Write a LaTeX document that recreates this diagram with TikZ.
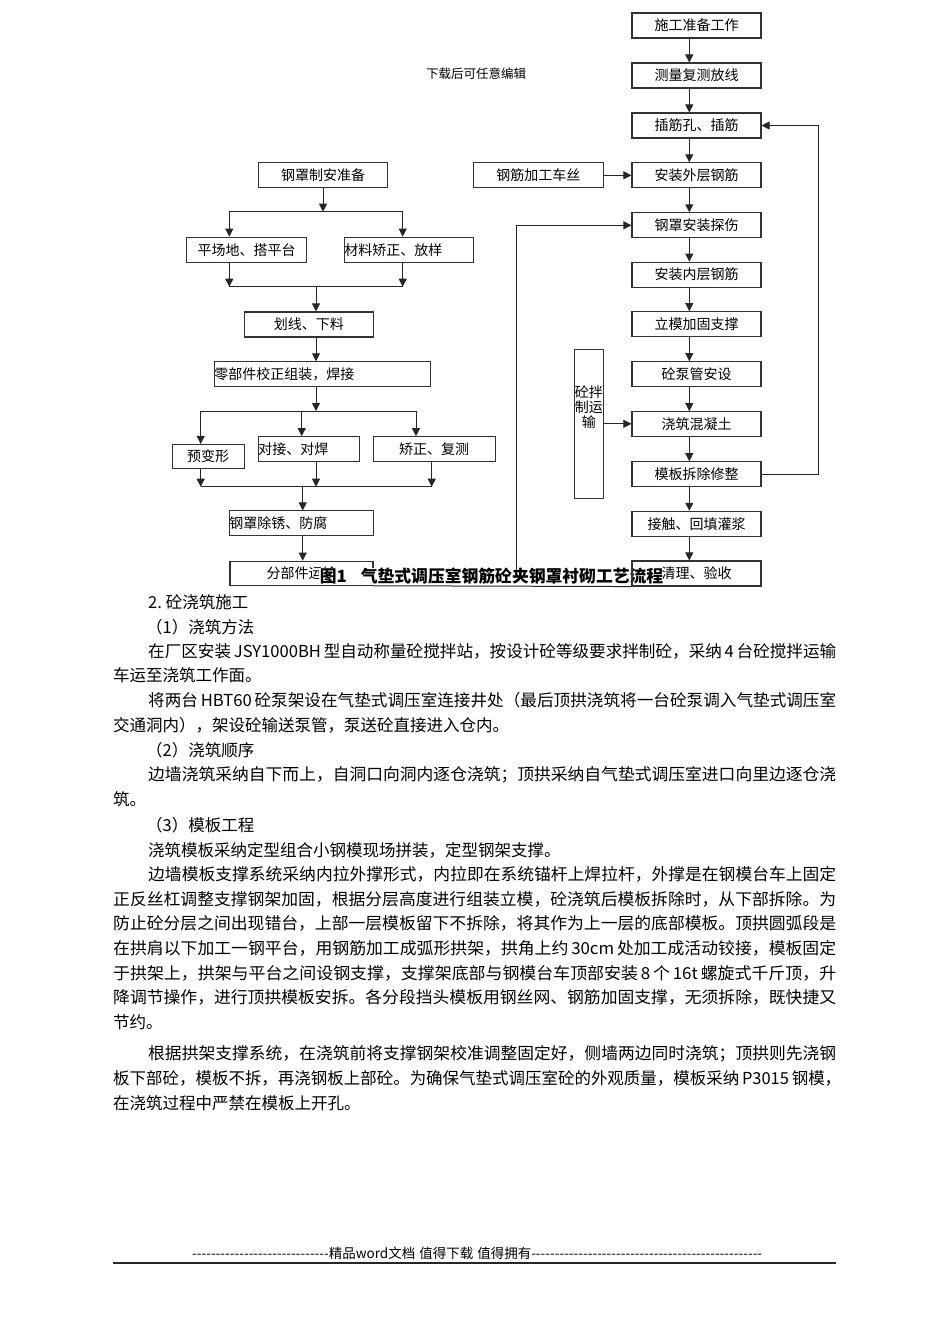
\documentclass[tikz,border=0pt]{standalone}
\usepackage{fontspec}
\setmainfont{Noto Sans CJK SC}
\usepackage{graphicx}
\usetikzlibrary{arrows.meta}
\tikzset{
  box/.style={draw=black!80, line width=1.1pt, minimum height=25pt, inner xsep=0pt, inner ysep=0pt, align=center, font=\fontsize{14}{16}\selectfont},
  arr/.style={-{Triangle[length=8pt,width=8pt]}, line width=1pt, draw=black!85},
  ln/.style={line width=1pt, draw=black!85},
  body/.style={anchor=west, inner sep=0pt, font=\fontsize{16.5}{18}\selectfont},
}
\begin{document}
\begin{tikzpicture}[x=1pt,y=-1pt]
\fill[white] (0,0) rectangle (950,1344);
\useasboundingbox (0,0) rectangle (950,1344);

\node[font=\fontsize{12.5}{14}\selectfont, inner sep=0pt] (dl) at (476,74) {下载后可任意编辑};

% ---------- left flow ----------
\node[box, text width=129pt] (a1) at (323,175) {钢罩制安准备};
\node[box, text width=120pt] (a2) at (246.7,249.7) {平场地、搭平台};
\node[box, text width=129pt, align=left] (a3) at (408.8,249.7) {材料矫正、放样};
\node[box, text width=129pt] (a4) at (308.8,324.5) {划线、下料};
\node[box, text width=215.7pt, align=left] (a5) at (322.2,374.3) {零部件校正组装，焊接};
\node[box, text width=71.7pt, minimum height=24pt] (a6) at (208.2,456.5) {预变形};
\node[box, text width=100.7pt, align=left] (a7) at (308.7,449.2) {对接、对焊};
\node[box, text width=121.7pt] (a8) at (434.2,449.2) {矫正、复测};
\node[box, text width=144pt, align=left] (a9) at (301.3,523.4) {钢罩除锈、防腐};
\node[box, text width=143pt, minimum height=24pt] (a10) at (301.5,573.2) {分部件运输};

\coordinate (j1) at (323,211.7);
\coordinate (j1l) at (229.3,211.7);
\coordinate (j1r) at (402.7,211.7);
\coordinate (j2l) at (229.3,286.7);
\coordinate (j2r) at (402.7,286.7);
\coordinate (j2) at (316,286.7);
\coordinate (c316) at (316,0);
\coordinate (j3) at (316,411);
\coordinate (j3l) at (200.7,411);
\coordinate (j3m) at (301.7,411);
\coordinate (j3r) at (416,411);
\coordinate (j4l) at (200.7,486.7);
\coordinate (j4m) at (316,486.7);
\coordinate (j4r) at (431.7,486.7);
\coordinate (j4) at (302.7,486.7);
\coordinate (c302) at (302.7,0);

\draw[arr] (a1.south) -- (j1);
\draw[ln] (j1l) -- (j1r);
\draw[arr] (j1l) -- (j1l |- a2.north);
\draw[arr] (j1r) -- (j1r |- a3.north);
\draw[arr] (j1l |- a2.south) -- (j2l);
\draw[arr] (j1r |- a3.south) -- (j2r);
\draw[ln] (j2l) -- (j2r);
\draw[arr] (j2) -- (a4.north -| c316);
\draw[arr] (a4.south -| c316) -- (a5.north -| c316);
\draw[arr] (a5.south -| c316) -- (j3);
\draw[ln] (j3l) -- (j3r);
\draw[arr] (j3l) -- (j3l |- a6.north);
\draw[arr] (j3m) -- (j3m |- a7.north);
\draw[arr] (j3r) -- (j3r |- a8.north);
\draw[arr] (j4l |- a6.south) -- (j4l);
\draw[arr] (j4m |- a7.south) -- (j4m);
\draw[arr] (j4r |- a8.south) -- (j4r);
\draw[ln] (j4l) -- (j4r);
\draw[arr] (j4) -- (a9.north -| c302);
\draw[arr] (a9.south -| c302) -- (a10.north -| c302);

% ---------- caption ----------
\node[font=\bfseries\fontsize{16.8}{18}\selectfont, fill=white, inner xsep=1pt, inner ysep=0pt] (cap) at (491.5,576.5) {图1\hspace{14pt}气垫式调压室钢筋砼夹钢罩衬砌工艺流程};

% ---------- right flow ----------
\node[box, text width=129pt] (r1) at (696.5,25.5) {施工准备工作};
\node[box, text width=129pt] (r2) at (696.5,75.5) {测量复测放线};
\node[box, text width=129pt] (r3) at (696.5,125.5) {插筋孔、插筋};
\node[box, text width=129pt] (r4) at (696.5,175.3) {安装外层钢筋};
\node[box, text width=129pt] (r5) at (696.5,225.3) {钢罩安装探伤};
\node[box, text width=129pt] (r6) at (696.5,274.7) {安装内层钢筋};
\node[box, text width=129pt] (r7) at (696.5,324.2) {立模加固支撑};
\node[box, text width=129pt] (r8) at (696.5,374.2) {砼泵管安设};
\node[box, text width=129pt] (r9) at (696.5,424.2) {浇筑混凝土};
\node[box, text width=129pt] (r10) at (696.5,474.2) {模板拆除修整};
\node[box, text width=129pt] (r11) at (696.5,523.8) {接触、回填灌浆};
\node[box, text width=129pt] (r12) at (696.5,573.5) {清理、验收};

\node[box, text width=130pt] (jg) at (538.3,175.3) {钢筋加工车丝};
\node[box, text width=29pt, minimum height=149pt] (sb) at (588.8,423.8) {};
\node[font=\fontsize{14}{15}\selectfont, align=center, inner sep=0pt] (sbt) at (588.8,407) {砼拌\\制运\\输};

\coordinate (cx) at (689.3,0);
\draw[arr] (r1.south -| cx) -- (r2.north -| cx);
\draw[arr] (r2.south -| cx) -- (r3.north -| cx);
\draw[arr] (r3.south -| cx) -- (r4.north -| cx);
\draw[arr] (r4.south -| cx) -- (r5.north -| cx);
\draw[arr] (r5.south -| cx) -- (r6.north -| cx);
\draw[arr] (r6.south -| cx) -- (r7.north -| cx);
\draw[arr] (r7.south -| cx) -- (r8.north -| cx);
\draw[arr] (r8.south -| cx) -- (r9.north -| cx);
\draw[arr] (r9.south -| cx) -- (r10.north -| cx);
\draw[arr] (r10.south -| cx) -- (r11.north -| cx);
\draw[arr] (r11.south -| cx) -- (r12.north -| cx);

\draw[arr] (jg.east) -- (r4.west);
\draw[arr] (sb.east) -- (sb.east -| r9.west);
\coordinate (fr) at (818.3,0);
\draw[arr] (r10.east) -- (r10.east -| fr) -- (r3.east -| fr) -- (r3.east);
\coordinate (lp) at (516.7,570);
\draw[arr] (lp) |- (r5.west);
\draw[ln] (a10.south east) -- (r12.south west);

% ---------- body text ----------
\node[body] (t1) at (148,602) {2.\hspace{4pt}砼浇筑施工};
\node[body] (t2) at (146,627) {（1）浇筑方法};
\node[body] (t3) at (148,651) {\resizebox{688pt}{\height}{在厂区安装\,JSY1000BH\,型自动称量砼搅拌站，按设计砼等级要求拌制砼，采纳\,4\,台砼搅拌运输}};
\node[body] (t4) at (113,675) {车运至浇筑工作面。};
\node[body] (t5) at (148,700) {\resizebox{688pt}{\height}{将两台\,HBT60\,砼泵架设在气垫式调压室连接井处（最后顶拱浇筑将一台砼泵调入气垫式调压室}};
\node[body] (t6) at (113,725) {交通洞内），架设砼输送泵管，泵送砼直接进入仓内。};
\node[body] (t7) at (146,750) {（2）浇筑顺序};
\node[body] (t8) at (148,775) {\resizebox{688pt}{\height}{边墙浇筑采纳自下而上，自洞口向洞内逐仓浇筑；顶拱采纳自气垫式调压室进口向里边逐仓浇}};
\node[body] (t9) at (113,799) {筑。};
\node[body] (t10) at (146,825) {（3）模板工程};
\node[body] (t11) at (148,850) {浇筑模板采纳定型组合小钢模现场拼装，定型钢架支撑。};
\node[body] (t12) at (148,874) {\resizebox{688pt}{\height}{边墙模板支撑系统采纳内拉外撑形式，内拉即在系统锚杆上焊拉杆，外撑是在钢模台车上固定}};
\node[body] (t13) at (113,899) {\resizebox{723pt}{\height}{正反丝杠调整支撑钢架加固，根据分层高度进行组装立模，砼浇筑后模板拆除时，从下部拆除。为}};
\node[body] (t14) at (113,923) {\resizebox{723pt}{\height}{防止砼分层之间出现错台，上部一层模板留下不拆除，将其作为上一层的底部模板。顶拱圆弧段是}};
\node[body] (t15) at (113,948) {\resizebox{723pt}{\height}{在拱肩以下加工一钢平台，用钢筋加工成弧形拱架，拱角上约\,30cm\,处加工成活动铰接，模板固定}};
\node[body] (t16) at (113,973) {\resizebox{723pt}{\height}{于拱架上，拱架与平台之间设钢支撑，支撑架底部与钢模台车顶部安装\,8\,个\,16t\,螺旋式千斤顶，升}};
\node[body] (t17) at (113,997) {\resizebox{723pt}{\height}{降调节操作，进行顶拱模板安拆。各分段挡头模板用钢丝网、钢筋加固支撑，无须拆除，既快捷又}};
\node[body] (t18) at (113,1022) {节约。};
\node[body] (t19) at (148,1054) {\resizebox{688pt}{\height}{根据拱架支撑系统，在浇筑前将支撑钢架校准调整固定好，侧墙两边同时浇筑；顶拱则先浇钢}};
\node[body] (t20) at (113,1078) {\resizebox{728pt}{\height}{板下部砼，模板不拆，再浇钢板上部砼。为确保气垫式调压室砼的外观质量，模板采纳\,P3015\,钢模，}};
\node[body] (t21) at (113,1103) {在浇筑过程中严禁在模板上开孔。};

% ---------- footer ----------
\node[anchor=west, inner sep=0pt, font=\fontsize{13.5}{15}\selectfont] (ft) at (192,1253) {\hbox to 570pt{\xleaders\hbox{-}\hskip 0pt plus 1fil 精品word文档\hspace{4pt}值得下载\hspace{4pt}值得拥有\xleaders\hbox{-}\hskip 0pt plus 1.69fil}};
\coordinate (fl) at (113,1263);
\coordinate (fr2) at (836,1263);
\draw[line width=1.3pt, black!85] (fl) -- (fr2);
\end{tikzpicture}
\end{document}
